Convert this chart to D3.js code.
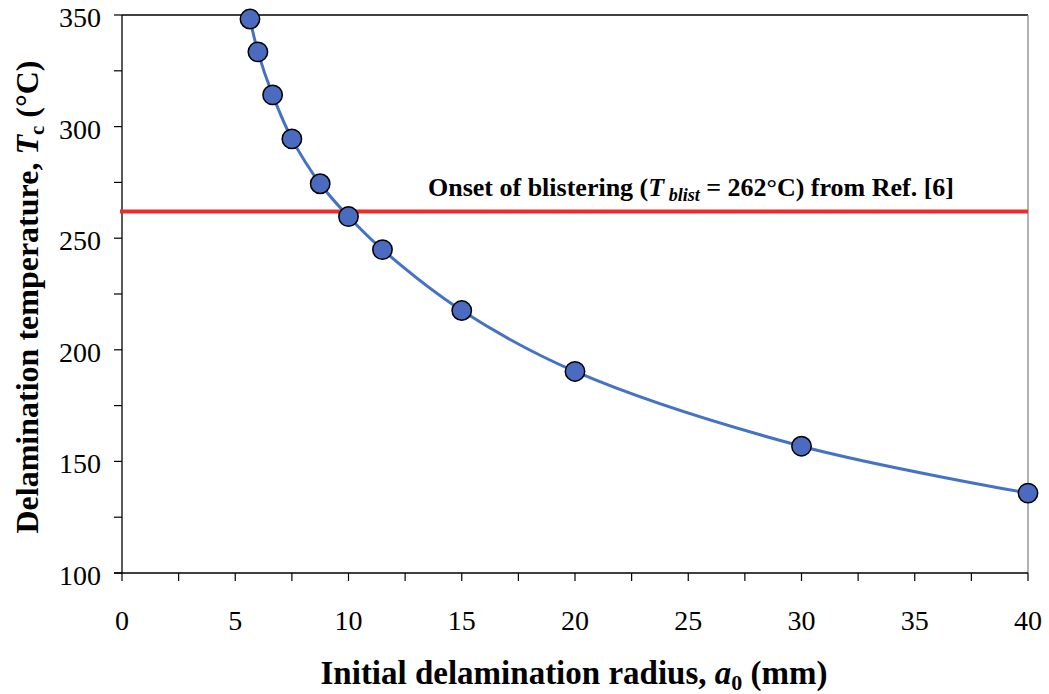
<!DOCTYPE html>
<html>
<head>
<meta charset="utf-8">
<script src="https://cdn.jsdelivr.net/npm/d3@7"></script>
<style>
  html, body { margin: 0; padding: 0; background: #fff; }
  svg { display: block; font-family: "Liberation Serif", "Times New Roman", serif; }
</style>
</head>
<body>
<svg id="chart" width="1049" height="694"></svg>
<script>
// Data
const radius = [5.65, 6.0, 6.65, 7.5, 8.75, 10, 11.5, 15, 20, 30, 40];
const temperature = [348.2, 333.5, 314.2, 294.5, 274.4, 259.7, 244.9, 217.6, 190.3, 156.8, 135.8];
const blisterTemp = 262;
const xTicks = [0, 5, 10, 15, 20, 25, 30, 35, 40];
const yTicks = [100, 150, 200, 250, 300, 350];

(function () {
const svg = d3.select("#chart");
const pL = 122, pR = 1028, pT = 15, pB = 573;

const x = d3.scaleLinear().domain([0, 40]).range([pL, pR]);
const y = d3.scaleLinear().domain([100, 350]).range([pB, pT]);

// frame (top & right)
svg.append("line").attr("x1", pL).attr("x2", pR).attr("y1", pT).attr("y2", pT)
  .attr("stroke", "#000").attr("stroke-width", 1.3);
svg.append("line").attr("x1", pR).attr("x2", pR).attr("y1", pT).attr("y2", pB)
  .attr("stroke", "#888").attr("stroke-width", 1.3);

// Y axis
const yMinor = d3.range(100, 351, 25);
const gy = svg.append("g");
gy.append("line").attr("x1", pL).attr("x2", pL).attr("y1", pT).attr("y2", pB)
  .attr("stroke", "#000").attr("stroke-width", 1.3);
gy.selectAll("line.minor").data(yMinor).enter().append("line")
  .attr("x1", pL - 8).attr("x2", pL).attr("y1", d => y(d)).attr("y2", d => y(d))
  .attr("stroke", "#000").attr("stroke-width", 1.2);
gy.selectAll("text").data(yTicks).enter().append("text")
  .attr("x", pL - 21).attr("y", d => y(d) + 12)
  .attr("text-anchor", "end").attr("font-size", 28).text(d => d);

// X axis
const xMinor = d3.range(0, 40.01, 2.5);
const gx = svg.append("g");
gx.append("line").attr("x1", pL - 8).attr("x2", pR).attr("y1", pB).attr("y2", pB)
  .attr("stroke", "#000").attr("stroke-width", 1.3);
gx.selectAll("line.minor").data(xMinor).enter().append("line")
  .attr("x1", d => x(d)).attr("x2", d => x(d)).attr("y1", pB).attr("y2", pB + 8)
  .attr("stroke", "#000").attr("stroke-width", 1.2);
gx.selectAll("text").data(xTicks).enter().append("text")
  .attr("x", d => x(d)).attr("y", pB + 56.5)
  .attr("text-anchor", "middle").attr("font-size", 28).text(d => d);

// Red blister line
svg.append("line").attr("x1", pL - 2).attr("x2", pR).attr("y1", y(blisterTemp)).attr("y2", y(blisterTemp))
  .attr("stroke", "#EE2A2A").attr("stroke-width", 4);

// annotation
const ann = svg.append("text").attr("x", 428).attr("y", 196)
  .attr("font-size", 26).attr("font-weight", "bold");
ann.append("tspan").text("Onset of blistering (");
ann.append("tspan").attr("font-style", "italic").text("T");
ann.append("tspan").attr("font-style", "italic").attr("font-size", 18).attr("dy", 5).text(" blist");
ann.append("tspan").attr("dy", -5).text(" = 262°C) from Ref. [6]");

// curve
const pts = radius.map((r, i) => [r, temperature[i]]);
svg.append("path").datum(pts)
  .attr("fill", "none").attr("stroke", "#4472C4").attr("stroke-width", 3)
  .attr("d", d3.line().x(d => x(d[0])).y(d => y(d[1])).curve(d3.curveCatmullRom.alpha(0.5)));

// markers
svg.selectAll("circle.pt").data(pts).enter().append("circle")
  .attr("cx", d => x(d[0])).attr("cy", d => y(d[1])).attr("r", 9.7)
  .attr("fill", "#4A6BBF").attr("stroke", "#000").attr("stroke-width", 1.5);

// axis titles
const xt = svg.append("text").attr("x", 574).attr("y", 684)
  .attr("text-anchor", "middle").attr("font-size", 33).attr("font-weight", "bold");
xt.append("tspan").text("Initial delamination radius, ");
xt.append("tspan").attr("font-style", "italic").text("a");
xt.append("tspan").attr("font-size", 22).attr("dy", 6).text("0");
xt.append("tspan").attr("dy", -6).text(" (mm)");

const yt = svg.append("text").attr("transform", "translate(38,297) rotate(-90)")
  .attr("text-anchor", "middle").attr("font-size", 32).attr("font-weight", "bold");
yt.append("tspan").text("Delamination temperature, ");
yt.append("tspan").attr("font-style", "italic").text("T");
yt.append("tspan").attr("font-size", 21).attr("dy", 6).text("c");
yt.append("tspan").attr("dy", -6).text(" (°C)");
})();
</script>
</body>
</html>
